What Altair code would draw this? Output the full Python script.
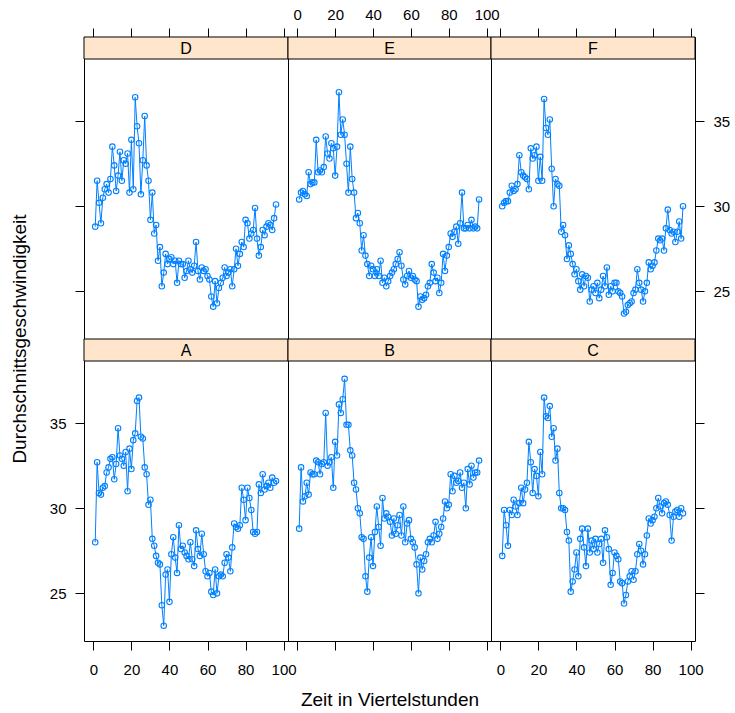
import altair as alt
import pandas as pd

# ---------------- data ----------------
zeit = list(range(1, 97))

speed_A = [28.0, 32.7, 30.9, 30.8, 31.2, 31.3, 32.1, 32.4, 32.9, 33.0,
           31.7, 32.6, 34.7, 33.1, 32.9, 32.5, 33.3, 31.0, 33.5, 32.3,
           34.0, 34.4, 36.3, 36.5, 34.2, 34.1, 32.4, 32.0, 30.2, 30.5,
           28.2, 27.8, 27.2, 26.8, 26.7, 24.3, 23.1, 26.1, 26.4, 24.5,
           27.3, 28.3, 27.1, 26.2, 29.0, 27.6, 27.8, 27.4, 27.2, 27.0,
           28.0, 27.0, 26.6, 28.7, 27.6, 27.2, 28.5, 27.3, 26.3, 26.0,
           26.2, 25.1, 24.9, 26.4, 25.0, 26.0, 26.1, 26.0, 26.8, 27.3,
           27.1, 26.3, 27.7, 29.1, 28.9, 28.8, 29.0, 31.2, 30.5, 29.3,
           31.2, 30.6, 29.9, 28.6, 28.5, 28.6, 31.4, 30.9, 32.0, 31.1,
           31.3, 31.5, 31.2, 31.8, 31.5, 31.6]

speed_B = [28.8, 32.4, 30.4, 30.7, 31.5, 30.8, 32.1, 32.0, 32.0, 32.8,
           32.7, 32.0, 32.6, 32.7, 35.6, 32.5, 32.7, 33.0, 31.2, 33.9,
           33.1, 36.1, 35.6, 36.4, 37.6, 34.9, 34.9, 33.4, 33.1, 31.5,
           31.1, 30.0, 29.7, 28.3, 28.2, 26.0, 25.1, 27.1, 28.3, 26.6,
           28.6, 30.1, 28.9, 27.8, 30.6, 29.4, 29.7, 29.5, 29.2, 28.4,
           29.4, 28.5, 29.0, 29.6, 28.4, 30.1, 28.0, 29.1, 29.3, 28.2,
           28.0, 27.7, 26.7, 25.0, 27.1, 26.4, 26.9, 27.3, 28.0, 28.2,
           28.0, 28.4, 29.2, 28.2, 28.5, 28.9, 29.4, 30.4, 30.0, 30.2,
           32.0, 31.0, 31.9, 31.5, 31.6, 32.1, 31.2, 31.5, 30.0, 32.3,
           31.4, 32.5, 31.8, 32.1, 32.1, 32.8]

speed_C = [27.2, 29.9, 29.0, 27.8, 29.9, 29.6, 30.5, 30.1, 29.6, 30.3,
           31.2, 30.3, 31.1, 31.5, 33.9, 32.7, 30.9, 32.3, 31.9, 30.7,
           33.3, 32.0, 36.5, 35.4, 35.3, 36.0, 34.2, 34.7, 32.8, 33.5,
           30.9, 30.0, 30.0, 29.9, 28.6, 28.1, 25.1, 25.7, 26.4, 27.4,
           26.0, 28.2, 28.8, 27.7, 26.6, 28.8, 27.4, 28.1, 27.6, 28.2,
           27.4, 27.9, 28.2, 26.8, 28.7, 28.3, 27.6, 25.5, 26.2, 27.4,
           27.2, 27.0, 25.7, 25.6, 24.4, 24.9, 25.7, 26.0, 26.3, 25.8,
           26.3, 27.3, 27.9, 27.5, 26.7, 27.3, 28.4, 29.4, 29.1, 29.3,
           29.5, 30.0, 30.6, 30.1, 29.7, 30.3, 30.4, 30.2, 29.6, 28.1,
           29.5, 29.8, 29.9, 29.5, 30.0, 29.7]

speed_D = [28.8, 31.5, 30.2, 29.0, 30.5, 31.0, 31.3, 30.8, 31.6, 33.5,
           32.4, 30.9, 31.8, 33.2, 31.5, 32.7, 32.5, 33.1, 30.8, 33.9,
           31.0, 36.4, 34.7, 33.7, 30.7, 32.7, 35.3, 32.4, 31.5, 29.2,
           30.8, 28.4, 28.9, 26.8, 27.6, 25.3, 26.1, 27.2, 26.6, 26.9,
           27.0, 26.6, 26.8, 25.5, 26.8, 26.6, 26.6, 25.8, 26.2, 26.8,
           26.3, 26.1, 26.5, 27.9, 26.2, 25.7, 26.4, 26.2, 26.3, 25.9,
           25.7, 24.7, 24.1, 25.6, 24.3, 25.2, 25.5, 25.8, 26.4, 25.9,
           26.1, 26.3, 25.3, 26.3, 27.5, 26.5, 27.2, 27.9, 27.6, 29.2,
           29.0, 28.1, 28.4, 28.6, 29.9, 28.1, 27.1, 27.6, 28.6, 28.3,
           28.8, 29.0, 28.9, 28.6, 29.3, 30.1]

speed_E = [30.4, 30.8, 30.9, 30.7, 30.6, 32.0, 31.3, 31.4, 31.4, 33.9,
           32.0, 32.1, 32.0, 32.3, 34.1, 33.1, 32.8, 33.7, 33.4, 31.8,
           33.5, 36.7, 34.2, 35.1, 34.2, 32.5, 30.8, 33.5, 31.6, 30.8,
           29.3, 29.6, 29.0, 27.4, 28.3, 27.1, 26.6, 25.9, 26.5, 26.3,
           25.9, 26.3, 25.9, 26.8, 25.5, 25.8, 25.3, 25.6, 25.9, 26.1,
           26.3, 26.6, 26.9, 27.3, 26.5, 25.7, 25.4, 25.9, 26.2, 25.8,
           25.9, 25.7, 25.6, 24.1, 24.7, 24.5, 24.6, 24.8, 25.3, 25.5,
           26.6, 26.1, 25.6, 25.8, 24.9, 25.5, 27.2, 26.2, 27.1, 27.6,
           28.4, 28.2, 28.5, 28.8, 27.8, 29.0, 30.8, 28.7, 28.7, 28.9,
           28.7, 29.2, 28.7, 28.8, 28.7, 30.4]

speed_F = [30.0, 30.2, 30.3, 30.3, 30.8, 31.2, 30.9, 31.0, 31.3, 33.0,
           32.0, 31.8, 31.7, 31.6, 31.0, 33.4, 32.8, 33.0, 33.5, 31.5,
           32.9, 31.5, 36.3, 34.6, 34.2, 35.1, 32.2, 30.0, 31.6, 31.3,
           31.2, 28.5, 28.9, 28.3, 26.9, 27.7, 27.2, 26.6, 26.0, 26.3,
           25.6, 25.1, 26.0, 25.3, 25.9, 25.8, 24.4, 25.1, 25.3, 24.9,
           25.5, 24.6, 25.1, 25.9, 25.3, 26.4, 24.8, 25.3, 25.0, 25.5,
           25.5, 25.0, 24.9, 24.7, 23.7, 23.8, 24.2, 24.3, 24.4, 24.9,
           25.1, 26.3, 25.5, 25.1, 24.4, 25.0, 25.5, 26.7, 26.3, 26.5,
           26.7, 27.4, 28.1, 28.0, 28.1, 27.4, 28.7, 29.8, 28.6, 28.4,
           28.5, 27.9, 28.5, 29.1, 28.1, 30.0]

series = {"A": speed_A, "B": speed_B, "C": speed_C,
          "D": speed_D, "E": speed_E, "F": speed_F}

x_ticks = [0, 20, 40, 60, 80, 100]
y_ticks = [25, 30, 35]
x_title = "Zeit in Viertelstunden"
y_title = "Durchschnittsgeschwindigkeit"

# ---------------- style / layout ----------------
FONT = "Liberation Sans"
BLUE = "#0080ff"
STRIP_FILL = "#ffe5cc"
WIDTHS = [204, 203, 204]
SH = 22      # strip height (inside each panel view, at its top)
PH = 280     # plotting region height
X_DOMAIN = [-4.9, 102.3]
Y_LOW, Y_HIGH = 22.2, 38.65
# extend the y domain upward so that the strip occupies the top SH pixels
Y_DOMAIN = [Y_LOW, Y_HIGH + (Y_HIGH - Y_LOW) * SH / PH]
LBL = 15


def mk_axis(orient, values, labels, pad, title=None, title_pad=0):
    kw = dict(orient=orient, values=values, labels=labels, ticks=True,
              domain=False, grid=False, tickSize=9, tickColor="black",
              tickWidth=1, labelColor="black", labelFont=FONT,
              labelFontSize=LBL, labelPadding=pad, labelFlush=False,
              labelOverlap=False, labelBound=False)
    if title:
        kw.update(title=title, titleFont=FONT, titleFontSize=19,
                  titleFontWeight="normal", titleColor="black",
                  titlePadding=title_pad)
    else:
        kw["title"] = None
    return alt.Axis(**kw)


xscale = alt.Scale(domain=X_DOMAIN, nice=False, zero=False)
yscale = alt.Scale(domain=Y_DOMAIN, nice=False, zero=False)


def panel(letter, w, xaxis, yaxis):
    df = pd.DataFrame({"zeit": zeit, "v": series[letter]})
    base = alt.Chart(df).encode(
        x=alt.X("zeit:Q", scale=xscale, axis=xaxis),
        y=alt.Y("v:Q", scale=yscale, axis=yaxis),
    )
    line = base.mark_line(color=BLUE, strokeWidth=1)
    pts = base.mark_point(shape="circle", filled=False, size=30,
                          color=BLUE, strokeWidth=1.1, opacity=1)
    sdf = pd.DataFrame({"panel": [letter]})
    rect = alt.Chart(sdf).mark_rect(fill=STRIP_FILL, stroke="black",
                                    strokeWidth=1).encode(
        x=alt.value(0), x2=alt.value(w), y=alt.value(0), y2=alt.value(SH))
    txt = alt.Chart(sdf).mark_text(font=FONT, fontSize=16, color="black",
                                   baseline="middle", align="center").encode(
        text="panel:N", x=alt.value(w / 2), y=alt.value(SH / 2 + 1))
    return alt.layer(line, pts, rect, txt).properties(width=w, height=SH + PH)


pD = panel("D", WIDTHS[0], mk_axis("top", x_ticks, False, 6),
           mk_axis("left", y_ticks, False, 9))
pE = panel("E", WIDTHS[1], mk_axis("top", x_ticks, True, 6), None)
pF = panel("F", WIDTHS[2], mk_axis("top", x_ticks, False, 6),
           mk_axis("right", y_ticks, True, 9))

pA = panel("A", WIDTHS[0], mk_axis("bottom", x_ticks, True, 12),
           mk_axis("left", y_ticks, True, 9))
pB = panel("B", WIDTHS[1],
           mk_axis("bottom", x_ticks, False, 12, title=x_title, title_pad=40),
           None)
pC = panel("C", WIDTHS[2], mk_axis("bottom", x_ticks, True, 12),
           mk_axis("right", y_ticks, False, 9))

grid = alt.concat(pD, pE, pF, pA, pB, pC, columns=3, spacing=0,
                  bounds="flush").resolve_scale(x="independent", y="independent")

ylab = alt.Chart(pd.DataFrame({"t": [y_title]})).mark_text(
    angle=270, font=FONT, fontSize=19, color="black",
    baseline="middle", align="center").encode(
    text="t:N", x=alt.value(20), y=alt.value(SH + PH)
).properties(width=84, height=2 * (SH + PH),
             view=alt.ViewBackground(strokeOpacity=0))

chart = alt.hconcat(ylab, grid, spacing=0, bounds="flush").properties(
    padding={"left": 0, "top": 6, "right": 2, "bottom": 5}
).configure_view(stroke="black", strokeWidth=1)

chart.save("out.html", embed_options={"renderer": "svg", "actions": False})
